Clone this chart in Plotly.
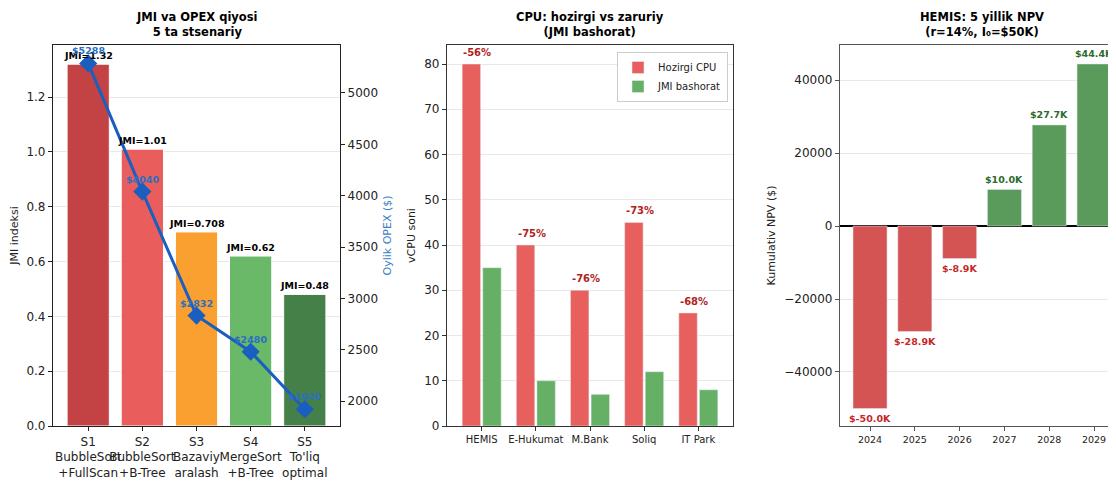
import plotly.graph_objects as go

# ---------------- data ----------------
scen_labels = ["S1<br>BubbleSort<br>+FullScan", "S2<br>BubbleSort<br>+B-Tree",
               "S3<br>Bazaviy<br>aralash", "S4<br>MergeSort<br>+B-Tree", "S5<br>To'liq<br>optimal"]
jmi = [1.32, 1.01, 0.708, 0.62, 0.48]
jmi_text = ["1.32", "1.01", "0.708", "0.62", "0.48"]
opex = [5288, 4040, 2832, 2480, 1920]
scen_colors = ["#c0393b", "#e85555", "#f99b25", "#62b662", "#3a7a3e"]

systems = ["HEMIS", "E-Hukumat", "M.Bank", "Soliq", "IT Park"]
cpu_now = [80, 40, 30, 45, 25]
cpu_jmi = [35, 10, 7, 12, 8]
cpu_pct = ["-56%", "-75%", "-76%", "-73%", "-68%"]

years = [2024, 2025, 2026, 2027, 2028, 2029]
npv = [-50000, -28900, -8900, 10000, 27700, 44400]
npv_text = ["$-50.0K", "$-28.9K", "$-8.9K", "$10.0K", "$27.7K", "$44.4K"]

FONT = "DejaVu Sans"
OFF = 8                      # page body margin
W, H = 1116 - OFF, 486 - OFF
def px(x):
    return (x - OFF) / W
def py(y):
    return (H - (y - OFF)) / H
ytop, ybot = 45, 426
ydom = [py(ybot), py(ytop)]

fig = go.Figure()

# ---------------- panel 1 ----------------
xs1 = list(range(len(jmi)))
fig.add_trace(go.Bar(x=xs1, y=jmi, marker=dict(color=scen_colors, line=dict(color="white", width=1)),
                     width=0.78, xaxis="x", yaxis="y", showlegend=False, opacity=0.95))
fig.add_trace(go.Scatter(x=xs1, y=opex, mode="lines+markers", xaxis="x", yaxis="y2",
                         line=dict(color="#1a5fbf", width=3),
                         marker=dict(symbol="diamond", size=14, color="#1a5fbf"), showlegend=False))
for i in xs1:
    fig.add_annotation(x=i, y=jmi[i], xref="x", yref="y", text="<b>JMI=" + jmi_text[i] + "</b>",
                       showarrow=False, yanchor="bottom", yshift=1,
                       font=dict(family=FONT, size=9.5, color="black"))
    fig.add_annotation(x=i, y=opex[i], xref="x", yref="y2", text="<b>$" + str(opex[i]) + "</b>",
                       showarrow=False, yanchor="bottom", yshift=5,
                       font=dict(family=FONT, size=9.5, color="#2a6fc0"))

# ---------------- panel 2 ----------------
xs2 = list(range(len(systems)))
fig.add_trace(go.Bar(x=xs2, y=cpu_now, name="Hozirgi CPU", marker=dict(color="#e8605e"),
                     width=0.34, offset=-0.36, xaxis="x2", yaxis="y3"))
fig.add_trace(go.Bar(x=xs2, y=cpu_jmi, name="JMI bashorat", marker=dict(color="#66b066"),
                     width=0.34, offset=0.02, xaxis="x2", yaxis="y3"))
for i in xs2:
    fig.add_annotation(x=i - 0.08, y=cpu_now[i], xref="x2", yref="y3", text="<b>" + cpu_pct[i] + "</b>",
                       showarrow=False, yanchor="bottom", yshift=4,
                       font=dict(family=FONT, size=10, color="#b22222"))

# ---------------- panel 3 ----------------
npv_colors = ["#d45454" if v < 0 else "#5a9a5a" for v in npv]
fig.add_trace(go.Bar(x=years, y=npv, marker=dict(color=npv_colors), width=0.76,
                     xaxis="x3", yaxis="y4", showlegend=False))
for yr, v, t in zip(years, npv, npv_text):
    fig.add_annotation(x=yr, y=v, xref="x3", yref="y4", text="<b>" + t + "</b>", showarrow=False,
                       yanchor="bottom" if v >= 0 else "top", yshift=3 if v >= 0 else -3,
                       font=dict(family=FONT, size=9.5, color="#2e6b2e" if v >= 0 else "#c62828"))

# ---------------- titles ----------------
titles = [("JMI va OPEX qiyosi<br>5 ta stsenariy", 53, 340),
          ("CPU: hozirgi vs zaruriy<br>(JMI bashorat)", 447, 733),
          ("HEMIS: 5 yillik NPV<br>(r=14%, I₀=$50K)", 840, 1124)]
for t, a, b in titles:
    fig.add_annotation(x=px((a + b) / 2), y=ydom[1], xref="paper", yref="paper", text="<b>" + t + "</b>",
                       showarrow=False, xanchor="center", yanchor="bottom", yshift=4,
                       font=dict(family=FONT, size=11.5, color="black"))

axis_common = dict(ticks="outside", ticklen=4, showline=True, linewidth=1.2, automargin=False)
tickf = dict(family=FONT, size=12, color="#222")
tickf_s = dict(family=FONT, size=10, color="#222")
tickf_y = dict(family=FONT, size=9.5, color="#222")

fig.update_layout(
    width=W, height=H, margin=dict(l=0, r=0, t=0, b=0, autoexpand=False),
    paper_bgcolor="white", plot_bgcolor="white", barmode="group",
    font=dict(family=FONT),
    xaxis=dict(domain=[px(53), px(340)], range=[-0.65, 4.65], tickvals=xs1, ticktext=scen_labels,
               tickangle=0, anchor="y", mirror=True, linecolor="#222", tickcolor="#222", tickfont=tickf,
               showgrid=False, zeroline=False, **axis_common),
    yaxis=dict(domain=ydom, range=[0, 1.39], dtick=0.2, tickformat=".1f", anchor="x", mirror=True,
               linecolor="#222", tickcolor="#222", tickfont=tickf, showgrid=True, gridcolor="#e8e8e8",
               zeroline=False, title=dict(text="JMI indeksi", font=dict(family=FONT, size=11, color="#222"),
                                          standoff=6), **axis_common),
    yaxis2=dict(range=[1757, 5467], dtick=500, overlaying="y", side="right", anchor="x",
                linecolor="#222", tickcolor="#222", tickfont=tickf, showgrid=False, zeroline=False,
                title=dict(text="Oylik OPEX ($)", font=dict(family=FONT, size=11, color="#3a7fc4"), standoff=6),
                **axis_common),
    xaxis2=dict(domain=[px(447), px(733)], range=[-0.64, 4.64], tickvals=xs2, ticktext=systems,
                tickangle=0, anchor="y3", mirror=True, linecolor="#333", tickcolor="#333", tickfont=tickf_s,
                showgrid=False, zeroline=False, **axis_common),
    yaxis3=dict(domain=ydom, range=[0, 84.2], dtick=10, anchor="x2", mirror=True,
                linecolor="#333", tickcolor="#333", tickfont=tickf, showgrid=True, gridcolor="#e8e8e8",
                zeroline=False, title=dict(text="vCPU soni", font=dict(family=FONT, size=11, color="#222"),
                                           standoff=6), **axis_common),
    xaxis3=dict(domain=[px(840), 1.0], range=[2023.33, 2029.49], tickvals=years,
                tickangle=0, anchor="y4", mirror=True, linecolor="#555", tickcolor="#555", tickfont=tickf_y,
                showgrid=False, zeroline=False, **axis_common),
    yaxis4=dict(domain=ydom, range=[-54800, 49600], dtick=20000, anchor="x3", mirror=False,
                linecolor="#555", tickcolor="#555", tickfont=tickf, showgrid=True, gridcolor="#e8e8e8",
                zeroline=True, zerolinecolor="black", zerolinewidth=2, tickformat="d",
                title=dict(text="Kumulativ NPV ($)", font=dict(family=FONT, size=11, color="#222"),
                           standoff=6), **axis_common),
    legend=dict(x=px(728), xanchor="right", y=py(52), yanchor="top",
                bgcolor="rgba(255,255,255,0.9)", bordercolor="#cccccc", borderwidth=1,
                font=dict(family=FONT, size=10, color="#222"), tracegroupgap=2),
)

fig.write_html("out.html")
